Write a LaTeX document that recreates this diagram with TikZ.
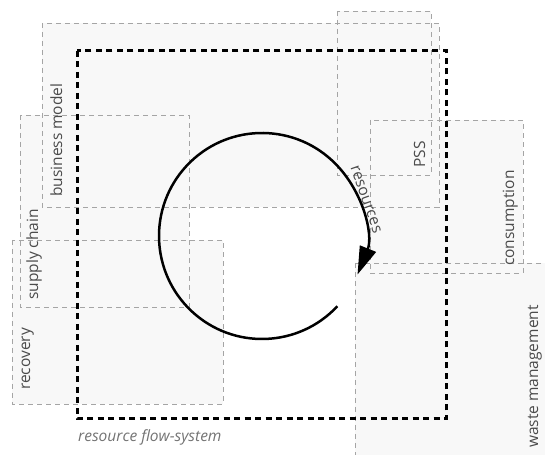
\documentclass[tikz,border=0pt]{standalone}
\usepackage{fontspec}
\setmainfont{Open Sans}
\usepackage{xcolor}
\usepackage{tikz}
\usetikzlibrary{arrows.meta}
\definecolor{zonefill}{RGB}{248,248,248}
\definecolor{zoneline}{RGB}{165,165,165}
\definecolor{labelgray}{RGB}{75,75,75}
\definecolor{captiongray}{RGB}{115,115,115}
\newcommand{\zonefont}{\fontsize{15.5bp}{18bp}\selectfont}

\begin{document}
\begin{tikzpicture}[
    x=1bp, y=1bp,
    zone/.style={fill=zonefill},
    zoneedge/.style={draw=zoneline, line width=0.9bp, dash pattern=on 5bp off 4bp},
    lbl/.style={rotate=90, inner sep=0pt, text=labelgray, font=\zonefont},
    flowbox/.style={draw=black, line width=3bp, dash pattern=on 6bp off 4.5bp},
    flowarc/.style={line width=2.5bp, -{Triangle[length=28bp, width=17bp]}}
  ]
    \useasboundingbox (0,0) rectangle (545,455);
    \clip (0,0) rectangle (545,455);

    % zones: business model, PSS, consumption, supply chain, recovery, waste management
    \foreach \xa/\ya/\xb/\yb in {42/432/439/248, 337/444/431/280, 370/335/523/182,
                                 20/340/189/148, 12/215/223/51, 355/192/560/-20}
      \fill[zone] (\xa,\ya) rectangle (\xb,\yb);
    \foreach \xa/\ya/\xb/\yb in {42/432/439/248, 337/444/431/280, 370/335/523/182,
                                 20/340/189/148, 12/215/223/51, 355/192/560/-20}
      \draw[zoneedge] (\xa,\ya) rectangle (\xb,\yb);

    \node[lbl, anchor=base west] (bmlabel) at (62,258) {business model};
    \node[lbl, anchor=base west] (sclabel) at (38,155) {supply chain};
    \node[lbl, anchor=base west] (reclabel) at (30,65) {recovery};
    \node[lbl, anchor=base west] (psslabel) at (425,287) {PSS};
    \node[lbl, anchor=base west] (conslabel) at (514,189) {consumption};
    \node[lbl, anchor=base east] (wmlabel) at (538,150) {waste management};

    % resource flow-system
    \draw[flowbox] (77,404) rectangle (446,36);
    \node[anchor=base west, inner sep=0pt, text=captiongray, font=\zonefont\itshape] (system) at (78,13) {resource flow-system};

    \coordinate (hub) at (262,219);
    \draw[flowarc] ([shift={(-43:103bp)}]hub) arc[start angle=-43, end angle=-382, radius=103bp];
    \node[anchor=base, rotate=-70.6, inner sep=0pt, text=labelgray, font=\zonefont] (flowlabel)
      at ([shift={(19.4:106bp)}]hub) {resources};
\end{tikzpicture}
\end{document}
